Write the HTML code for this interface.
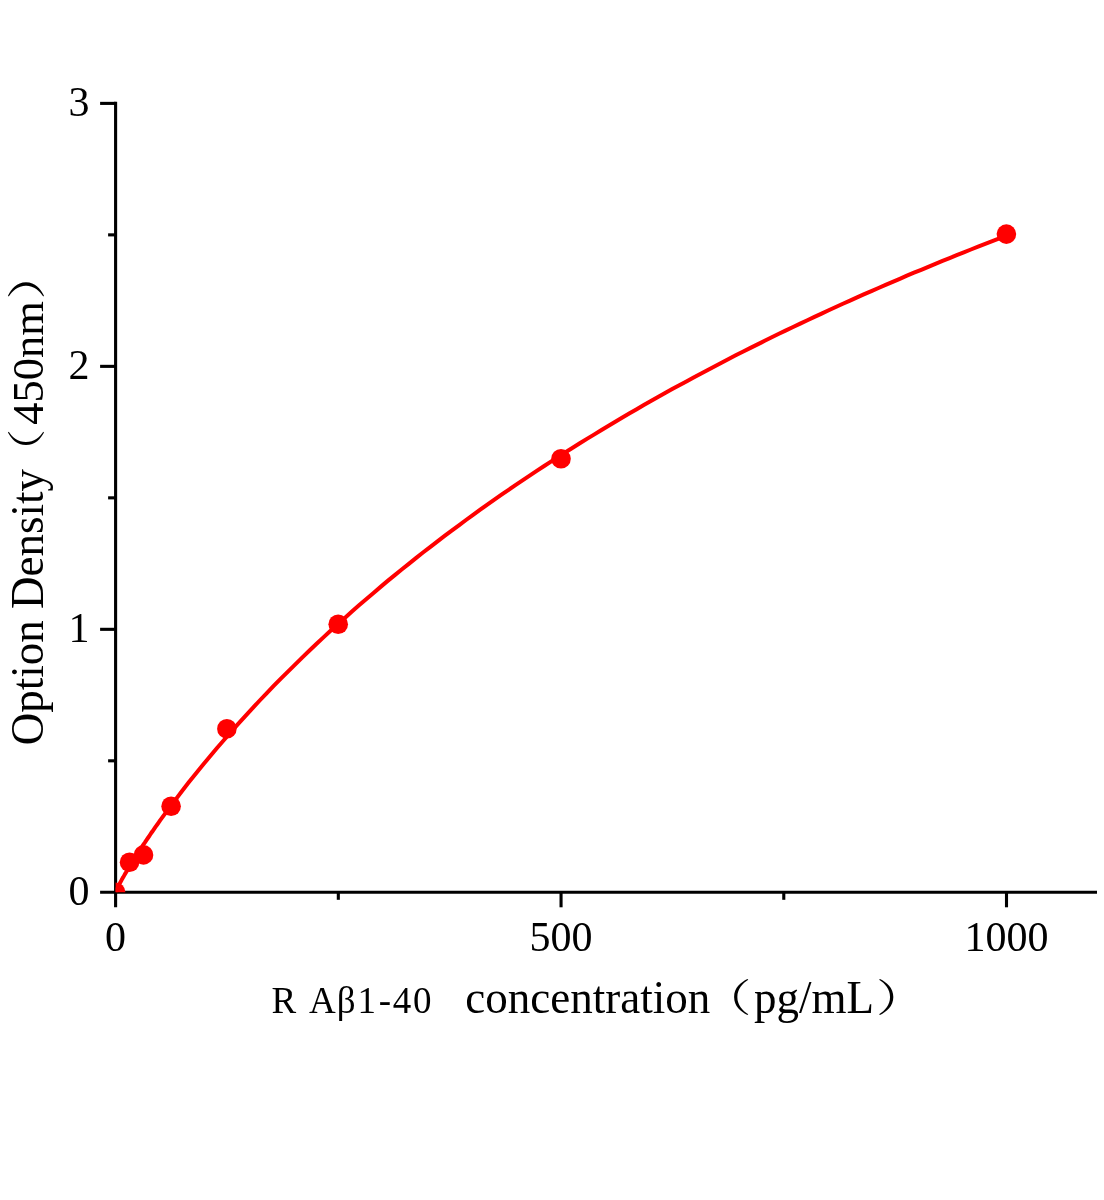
<!DOCTYPE html>
<html lang="en"><head><meta charset="utf-8"><title>R Aβ1-40 standard curve</title>
<style>html,body{margin:0;padding:0;background:#fff}svg{display:block}</style></head>
<body>
<svg width="1104" height="1200" viewBox="0 0 1104 1200">
<defs><clipPath id="plot"><rect x="115.6" y="0" width="988.4" height="892.3"/></clipPath></defs>
<rect width="1104" height="1200" fill="#ffffff"/>
<g stroke="#000000" stroke-width="3.1" fill="none">
<line x1="115.6" y1="101.84" x2="115.6" y2="907.30"/>
<line x1="100.10" y1="892.3" x2="1097" y2="892.3"/>
<line x1="100.10" y1="629.33" x2="115.6" y2="629.33"/>
<line x1="100.10" y1="366.36" x2="115.6" y2="366.36"/>
<line x1="100.10" y1="103.39" x2="115.6" y2="103.39"/>
<line x1="108.10" y1="760.81" x2="115.6" y2="760.81"/>
<line x1="108.10" y1="497.84" x2="115.6" y2="497.84"/>
<line x1="108.10" y1="234.87" x2="115.6" y2="234.87"/>
<line x1="561.05" y1="892.3" x2="561.05" y2="907.30"/>
<line x1="1006.50" y1="892.3" x2="1006.50" y2="907.30"/>
<line x1="338.32" y1="892.3" x2="338.32" y2="899.80"/>
<line x1="783.78" y1="892.3" x2="783.78" y2="899.80"/>
</g>
<g clip-path="url(#plot)"><path d="M115.6,892.1 L117.1,888.6 L118.7,885.6 L120.2,882.7 L121.7,879.8 L123.3,877.1 L124.8,874.4 L126.4,871.8 L127.9,869.2 L129.4,866.6 L131.0,864.1 L132.5,861.6 L134.0,859.2 L135.6,856.7 L137.1,854.3 L138.6,851.9 L140.2,849.6 L141.7,847.2 L143.2,844.9 L144.8,842.6 L146.3,840.3 L147.9,838.0 L149.4,835.8 L150.9,833.5 L152.5,831.3 L154.0,829.1 L155.5,826.9 L157.1,824.7 L158.6,822.6 L160.1,820.4 L167.3,810.6 L174.4,801.1 L181.5,791.7 L188.6,782.6 L195.7,773.7 L202.8,765.0 L209.9,756.4 L217.0,748.0 L224.2,739.7 L231.3,731.6 L238.4,723.7 L245.5,715.8 L252.6,708.1 L259.7,700.5 L266.8,693.1 L273.9,685.7 L281.1,678.4 L288.2,671.3 L295.3,664.3 L302.4,657.3 L309.5,650.5 L316.6,643.8 L323.7,637.1 L330.8,630.5 L338.0,624.1 L345.1,617.7 L352.2,611.3 L359.3,605.1 L366.4,599.0 L373.5,592.9 L380.6,586.9 L387.7,580.9 L394.8,575.1 L402.0,569.3 L409.1,563.6 L416.2,557.9 L423.3,552.3 L430.4,546.8 L437.5,541.3 L444.6,535.9 L451.7,530.6 L458.9,525.3 L466.0,520.0 L473.1,514.9 L480.2,509.7 L487.3,504.7 L494.4,499.7 L501.5,494.7 L508.6,489.8 L515.8,484.9 L522.9,480.1 L530.0,475.4 L537.1,470.6 L544.2,466.0 L551.3,461.4 L558.4,456.8 L565.5,452.2 L572.7,447.8 L579.8,443.3 L586.9,438.9 L594.0,434.6 L601.1,430.2 L608.2,426.0 L615.3,421.7 L622.4,417.5 L629.6,413.3 L636.7,409.2 L643.8,405.1 L650.9,401.1 L658.0,397.1 L665.1,393.1 L672.2,389.1 L679.3,385.2 L686.4,381.4 L693.6,377.5 L700.7,373.7 L707.8,369.9 L714.9,366.2 L722.0,362.5 L729.1,358.8 L736.2,355.1 L743.3,351.5 L750.5,347.9 L757.6,344.4 L764.7,340.8 L771.8,337.3 L778.9,333.8 L786.0,330.4 L793.1,327.0 L800.2,323.6 L807.4,320.2 L814.5,316.9 L821.6,313.6 L828.7,310.3 L835.8,307.0 L842.9,303.8 L850.0,300.6 L857.1,297.4 L864.3,294.2 L871.4,291.1 L878.5,288.0 L885.6,284.9 L892.7,281.8 L899.8,278.8 L906.9,275.7 L914.0,272.7 L921.2,269.8 L928.3,266.8 L935.4,263.9 L942.5,260.9 L949.6,258.1 L956.7,255.2 L963.8,252.3 L970.9,249.5 L978.1,246.7 L985.2,243.9 L992.3,241.1 L999.4,238.4 L1006.4,234.3" fill="none" stroke="#ff0000" stroke-width="4" stroke-linejoin="round"/>
<circle cx="115.6" cy="892.3" r="9.8" fill="#ff0000"/>
<circle cx="129.55" cy="862.3" r="9.8" fill="#ff0000"/>
<circle cx="143.5" cy="854.9" r="9.8" fill="#ff0000"/>
<circle cx="171.1" cy="806.2" r="9.8" fill="#ff0000"/>
<circle cx="226.9" cy="728.8" r="9.8" fill="#ff0000"/>
<circle cx="338.2" cy="624.2" r="9.8" fill="#ff0000"/>
<circle cx="561.0" cy="458.8" r="9.8" fill="#ff0000"/>
<circle cx="1006.4" cy="234.1" r="9.8" fill="#ff0000"/>
</g>
<g font-family="'Liberation Serif', 'Noto Serif CJK SC', serif" fill="#000000">
<text x="89.5" y="904.9" font-size="42" text-anchor="end">0</text>
<text x="89.5" y="641.9" font-size="42" text-anchor="end">1</text>
<text x="89.5" y="379.0" font-size="42" text-anchor="end">2</text>
<text x="89.5" y="116.0" font-size="42" text-anchor="end">3</text>
<text x="115.6" y="950.6" font-size="42" text-anchor="middle">0</text>
<text x="561.0" y="950.6" font-size="42" text-anchor="middle">500</text>
<text x="1006.5" y="950.6" font-size="42" text-anchor="middle">1000</text>
<text x="271.4 298 309 336.8 357.4 378.7 392.8 412.9" y="1013.4" font-size="37">R Aβ1-40</text>
<text x="465.3" y="1013.4" font-size="45.6" textLength="244.9" lengthAdjust="spacingAndGlyphs">concentration</text>
<text transform="translate(701.63,1011.34) scale(1.290,1)" font-size="38.5">（</text>
<text x="754" y="1013.4" font-size="45.6" textLength="120" lengthAdjust="spacingAndGlyphs">pg/mL</text>
<text transform="translate(875.92,1011.34) scale(1.290,1)" font-size="38.5">）</text>
<g transform="translate(42.6,745.3) rotate(-90)">
<text x="0" y="0" font-size="45.6" textLength="276.25" lengthAdjust="spacingAndGlyphs">Option Density</text>
<text transform="translate(269.89,-2.32) scale(1.214,1)" font-size="38.5">（</text>
<text x="320.5" y="0" font-size="45.2" textLength="123.6" lengthAdjust="spacingAndGlyphs">450nm</text>
<text transform="translate(445.50,-2.32) scale(1.297,1)" font-size="38.5">）</text>
</g>
</g>
</svg>
</body></html>
